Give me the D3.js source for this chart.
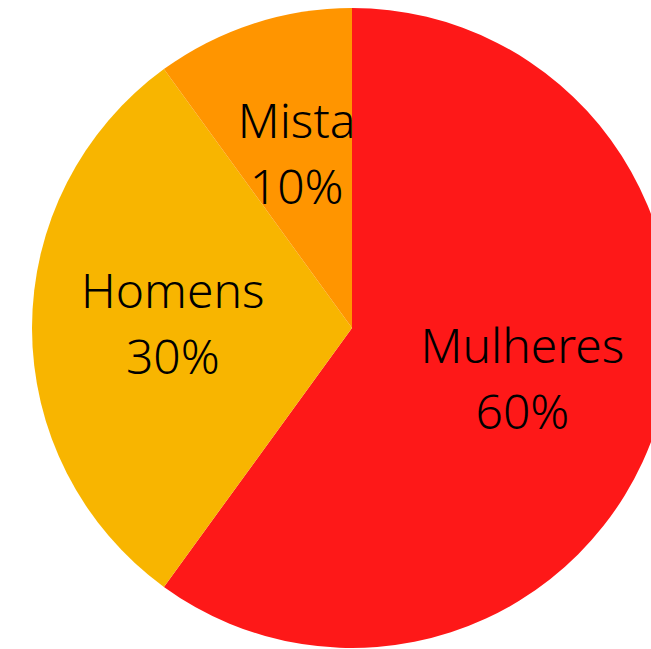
<!DOCTYPE html>
<html>
<head>
<meta charset="utf-8">
<script src="https://cdn.jsdelivr.net/npm/d3@7"></script>
<style>
  html, body { margin: 0; padding: 0; background: #fff; overflow: hidden; }
  svg text { font-family: "Noto Sans", sans-serif; font-weight: 300; fill: #000; }
</style>
</head>
<body>
<svg id="chart" width="651" height="649"></svg>
<script>
// chart data
var categories = ["Mulheres", "Homens", "Mista"];
var values = [60, 30, 10];
var labels = ["60%", "30%", "10%"];
var colors = ["#fe1818", "#f8b500", "#ff9500"];

var svg = d3.select("#chart");
var cx = 352, cy = 328, radius = 320;

var color = d3.scaleOrdinal()
    .domain(categories)
    .range(colors);

var pie = d3.pie()
    .sort(null)
    .value(function(d) { return d.value; });

var data = categories.map(function(c, i) {
    return { name: c, value: values[i], label: labels[i] };
});

var arc = d3.arc().innerRadius(0).outerRadius(radius);
var labelArc = d3.arc().innerRadius(radius * 0.56).outerRadius(radius * 0.56);

var g = svg.append("g")
    .attr("transform", "translate(" + cx + "," + cy + ")");

var slices = g.selectAll("g.slice")
    .data(pie(data))
    .enter()
    .append("g")
    .attr("class", "slice");

slices.append("path")
    .attr("d", arc)
    .style("fill", function(d) { return color(d.data.name); });

var txt = slices.append("text")
    .attr("transform", function(d) { return "translate(" + labelArc.centroid(d) + ")"; })
    .attr("text-anchor", "middle")
    .style("font-size", "48px");

txt.append("tspan")
    .attr("x", 0)
    .attr("y", -20)
    .text(function(d) { return d.data.name; });

txt.append("tspan")
    .attr("x", 0)
    .attr("y", 46)
    .text(function(d) { return d.data.label; });
</script>
</body>
</html>
